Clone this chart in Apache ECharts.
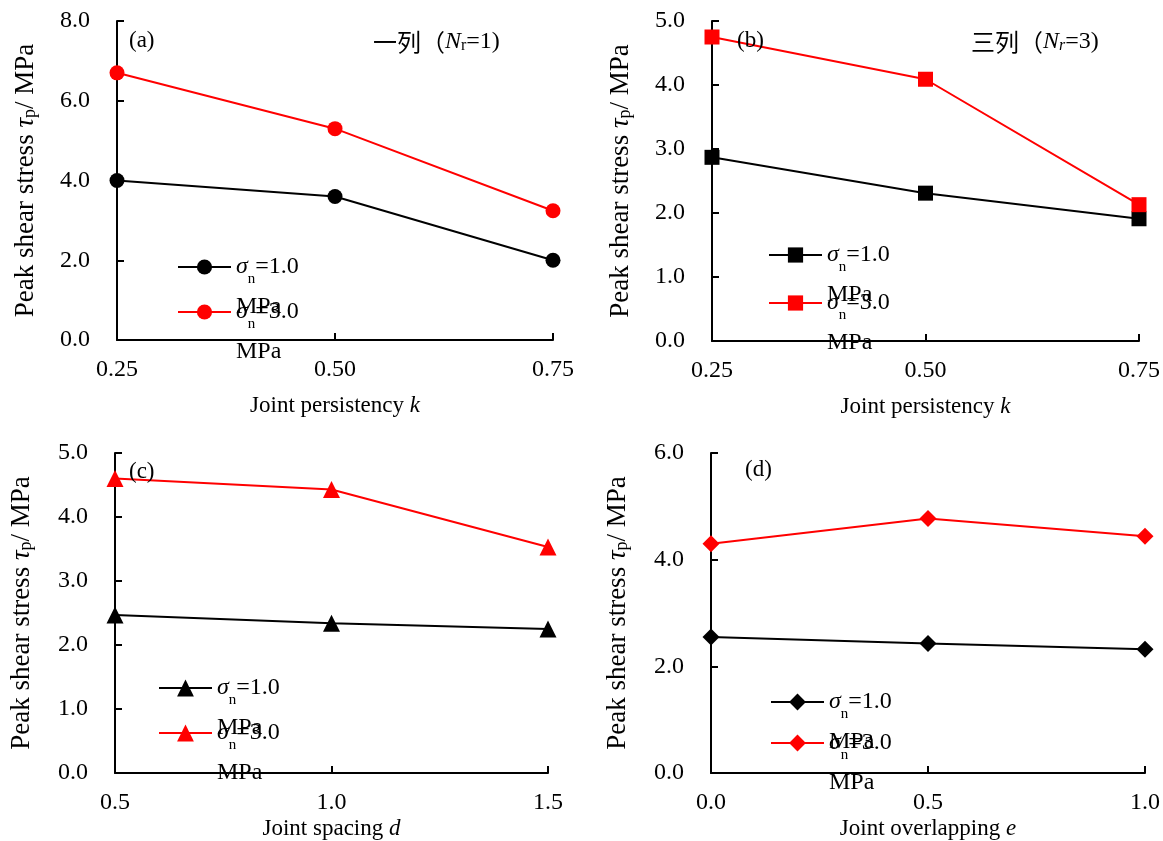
<!DOCTYPE html>
<html>
<head>
<meta charset="utf-8">
<script src="https://cdn.jsdelivr.net/npm/echarts@6/dist/echarts.min.js"></script>
<style>
html,body{margin:0;padding:0;background:#fff;}
#main{width:1163px;height:841px;}
</style>
</head>
<body>
<div id="main"></div>
<script>
// ---- data ----
const kValues = [0.25, 0.50, 0.75];
const dValues = [0.5, 1.0, 1.5];
const eValues = [0.0, 0.5, 1.0];

const aLow  = [4.0, 3.6, 2.0];
const aHigh = [6.7, 5.3, 3.24];
const bLow  = [2.87, 2.31, 1.91];
const bHigh = [4.75, 4.09, 2.13];
const cLow  = [2.47, 2.34, 2.25];
const cHigh = [4.6, 4.43, 3.53];
const dLow  = [2.55, 2.43, 2.32];
const dHigh = [4.3, 4.77, 4.44];

const stressLevels = ['1.0', '3.0'];
const panelLabels = ['(a)', '(b)', '(c)', '(d)'];
const xNames = ['Joint persistency {i|k}', 'Joint persistency {i|k}', 'Joint spacing {i|d}', 'Joint overlapping {i|e}'];
const yName = 'Peak shear stress {i|τ}{p|p}/ MPa';

const FONT = '"Liberation Serif", "Times New Roman", "Noto Sans CJK SC", serif';
const L = 40;

function pairs(xs, ys) { return xs.map((x, i) => [x, ys[i]]); }

const panels = [
  { grid: {left: 117, top: 21, width: 436, height: 319}, x: kValues, xmin: 0.25, xmax: 0.75, xint: 0.25, xdec: 2,
    ymax: 8, yint: 2, low: aLow, high: aHigh, symbol: 'circle', size: 15, nameGap: 54, iconH: 19,
    legend: {left: 177, top: 215, gap: -59}, label: {left: 129, top: 29}, yGap: 78 },
  { grid: {left: 712, top: 21, width: 431, height: 320}, x: kValues, xmin: 0.25, xmax: 0.75, xint: 0.25, xdec: 2,
    ymax: 5, yint: 1, low: bLow, high: bHigh, symbol: 'rect', size: 15, nameGap: 54, iconH: 19,
    legend: {left: 768, top: 203, gap: -56}, label: {left: 737, top: 29}, yGap: 78 },
  { grid: {left: 115, top: 453, width: 433, height: 320}, x: dValues, xmin: 0.5, xmax: 1.5, xint: 0.5, xdec: 1,
    ymax: 5, yint: 1, low: cLow, high: cHigh, symbol: 'triangle', size: 17, nameGap: 44, iconH: 21,
    legend: {left: 158, top: 636, gap: -59}, label: {left: 129, top: 460}, yGap: 80 },
  { grid: {left: 711, top: 453, width: 436, height: 321}, x: eValues, xmin: 0, xmax: 1, xint: 0.5, xdec: 1,
    ymax: 6, yint: 2, low: dLow, high: dHigh, symbol: 'diamond', size: 17, nameGap: 44, iconH: 21,
    legend: {left: 770, top: 650, gap: -63}, label: {left: 745, top: 458}, yGap: 80 }
];

const grids = [], xAxes = [], yAxes = [], series = [], legends = [], titles = [];

const axisCommon = {
  axisLine: {show: true, onZero: false, lineStyle: {color: '#000', width: 2}},
  axisTick: {show: true, inside: true, length: 7, lineStyle: {color: '#000', width: 2}},
  splitLine: {show: false}
};
const xNameStyle = {fontFamily: FONT, fontSize: 23, color: '#000',
  rich: {i: {fontFamily: FONT, fontSize: 23, fontStyle: 'italic', color: '#000'}}};
const yNameStyle = {fontFamily: FONT, fontSize: 27, color: '#000',
  rich: {i: {fontFamily: FONT, fontSize: 27, fontStyle: 'italic', color: '#000'},
         p: {fontFamily: FONT, fontSize: 18, color: '#000', verticalAlign: 'bottom', lineHeight: 16}}};

panels.forEach((p, i) => {
  grids.push(Object.assign({containLabel: false}, p.grid));
  xAxes.push(Object.assign({}, axisCommon, {
    type: 'value', gridIndex: i, min: p.xmin, max: p.xmax, interval: p.xint,
    name: xNames[i], nameLocation: 'middle', nameGap: p.nameGap, nameTextStyle: xNameStyle,
    axisLabel: {fontFamily: FONT, fontSize: 24, color: '#000', margin: 18,
      formatter: v => v.toFixed(p.xdec)}
  }));
  yAxes.push(Object.assign({}, axisCommon, {
    type: 'value', gridIndex: i, min: 0, max: p.ymax, interval: p.yint,
    name: yName, nameLocation: 'middle', nameGap: p.yGap, nameTextStyle: yNameStyle,
    axisLabel: {fontFamily: FONT, fontSize: 24, color: '#000', margin: 27,
      formatter: v => v.toFixed(1)}
  }));
  const names = [];
  [[p.low, '#000000'], [p.high, '#ff0000']].forEach(([vals, col], j) => {
    const nm = 'p' + i + '|' + stressLevels[j];
    names.push(nm);
    series.push({
      type: 'line', name: nm, xAxisIndex: i, yAxisIndex: i,
      data: pairs(p.x, vals),
      symbol: p.symbol, symbolSize: p.size, showSymbol: true,
      lineStyle: {color: col, width: 2},
      itemStyle: {color: col, borderWidth: 0},
      emphasis: {disabled: true},
      animation: false, z: 3
    });
  });
  legends.push({
    data: names, orient: 'vertical', left: p.legend.left, top: p.legend.top,
    itemGap: p.legend.gap, itemWidth: 53, itemHeight: p.iconH, padding: 0,
    selectedMode: false,
    formatter: name => '{e| }\n{s|σ}{n|n}{t|=' + name.split('|')[1] + '}\n{t|MPa}',
    textStyle: {fontFamily: FONT, fontSize: 24, color: '#000',
      rich: {
        e: {fontFamily: FONT, fontSize: 24, lineHeight: L},
        s: {fontFamily: FONT, fontSize: 24, fontStyle: 'italic', lineHeight: L, color: '#000'},
        n: {fontFamily: FONT, fontSize: 15, verticalAlign: 'bottom', color: '#000'},
        t: {fontFamily: FONT, fontSize: 24, lineHeight: L, color: '#000'}
      }}
  });
  titles.push({
    text: panelLabels[i], left: p.label.left, top: p.label.top, padding: 0,
    textStyle: {fontFamily: FONT, fontSize: 23, fontWeight: 'normal', color: '#000'}
  });
});

const cornerRich = {
  c: {fontFamily: '"Noto Sans CJK SC", sans-serif', fontSize: 24, color: '#000'},
  t: {fontFamily: FONT, fontSize: 24, color: '#000'},
  i: {fontFamily: FONT, fontSize: 24, fontStyle: 'italic', color: '#000'},
  r: {fontFamily: FONT, fontSize: 16, color: '#000', verticalAlign: 'bottom', lineHeight: 12},
  ri: {fontFamily: FONT, fontSize: 16, fontStyle: 'italic', color: '#000', verticalAlign: 'bottom', lineHeight: 12}
};
titles.push({
  text: '{c|一列（}{i|N}{r|r}{t|=1)}', left: 373, top: 30, padding: 0,
  textStyle: {fontWeight: 'normal', rich: cornerRich}
});
titles.push({
  text: '{c|三列（}{i|N}{ri|r}{t|=3)}', left: 971, top: 30, padding: 0,
  textStyle: {fontWeight: 'normal', rich: cornerRich}
});

const chart = echarts.init(document.getElementById('main'), null, {renderer: 'canvas'});
chart.setOption({
  backgroundColor: '#ffffff',
  animation: false,
  title: titles,
  grid: grids,
  xAxis: xAxes,
  yAxis: yAxes,
  legend: legends,
  series: series
});
</script>
</body>
</html>
